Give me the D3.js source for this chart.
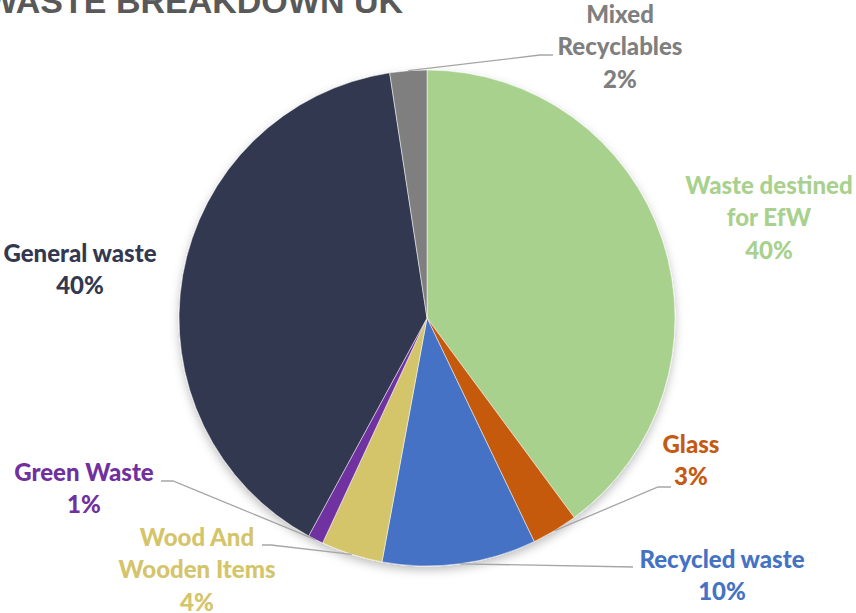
<!DOCTYPE html>
<html><head><meta charset="utf-8">
<script src="https://cdn.jsdelivr.net/npm/d3@7"></script>
<style>html,body{margin:0;padding:0;background:#fff;overflow:hidden}</style>
</head><body>
<svg id="chart" width="856" height="613"></svg>
<script>
const categories = ["Waste destined for EfW","Glass","Recycled waste","Wood And Wooden Items","Green Waste","General waste","Mixed Recyclables"];
const values = [39.8, 3, 10, 4, 1, 39.6, 2.4];
const colors = ["#A9D18E","#C55A11","#4472C4","#D4C46A","#7030A0","#333850","#7F7F7F"];
const labelLines = [["Waste destined","for EfW"],["Glass"],["Recycled waste"],["Wood And","Wooden Items"],["Green Waste"],["General waste"],["Mixed","Recyclables"]];
const title = "WASTE BREAKDOWN UK";

const svg = d3.select("#chart");
const cx = 427, cy = 318, R = 248;

const defs = svg.append("defs");
const f = defs.append("filter").attr("id","sh").attr("x","-20%").attr("y","-20%").attr("width","140%").attr("height","140%");
f.append("feDropShadow").attr("dx",0).attr("dy",4).attr("stdDeviation",5).attr("flood-color","#000").attr("flood-opacity",0.25);

svg.append("text").attr("x",403).attr("y",13).attr("text-anchor","end")
  .attr("font-family","Liberation Sans, Arial, sans-serif").attr("font-weight","bold")
  .attr("font-size",34).attr("fill","#595959").text(title);

const pie = d3.pie().sort(null).value(d=>d)(values);
const arc = d3.arc().innerRadius(0).outerRadius(R);
const g = svg.append("g").attr("transform",`translate(${cx},${cy})`);
g.append("g").attr("filter","url(#sh)").selectAll("path").data(pie).join("path")
  .attr("d",arc).attr("fill",(d,i)=>colors[i]).attr("stroke","#fff").attr("stroke-width",0.5);

// label layout (x center, first baseline) and leader elbows
const layout = [
  {x:769, y:194, line:null},
  {x:691, y:453, line:{elbow:[658,487], end:[671,487]}},
  {x:722, y:568, line:{elbow:[633,567], end:[633,567]}},
  {x:197, y:546, line:{elbow:[271,545], end:[262,545]}},
  {x:84,  y:481, line:{elbow:[173,481], end:[161,481]}},
  {x:80,  y:262, line:null},
  {x:620, y:23,  line:{elbow:[540,55], end:[553,55]}}
];
const lh = 32.3;
const pct = values.map(v => Math.round(v/d3.sum(values)*100) + "%");

pie.forEach((d,i)=>{
  const L = layout[i];
  if (L.line) {
    const a = (d.startAngle + d.endAngle)/2;
    const p0 = [cx + R*Math.sin(a), cy - R*Math.cos(a)];
    svg.append("polyline")
      .attr("points",[p0, L.line.elbow, L.line.end].map(p=>p.join(",")).join(" "))
      .attr("fill","none").attr("stroke","#A6A6A6").attr("stroke-width",1.3);
  }
  const t = svg.append("text").attr("text-anchor","middle")
    .attr("font-family","Lato, Open Sans, sans-serif").attr("font-weight","900")
    .attr("font-size",24).attr("fill",colors[i]);
  const lines = labelLines[i].concat([pct[i]]);
  lines.forEach((s,k)=>{
    t.append("tspan").attr("x",L.x).attr("y",L.y + k*lh).text(s);
  });
});
</script>
</body></html>
